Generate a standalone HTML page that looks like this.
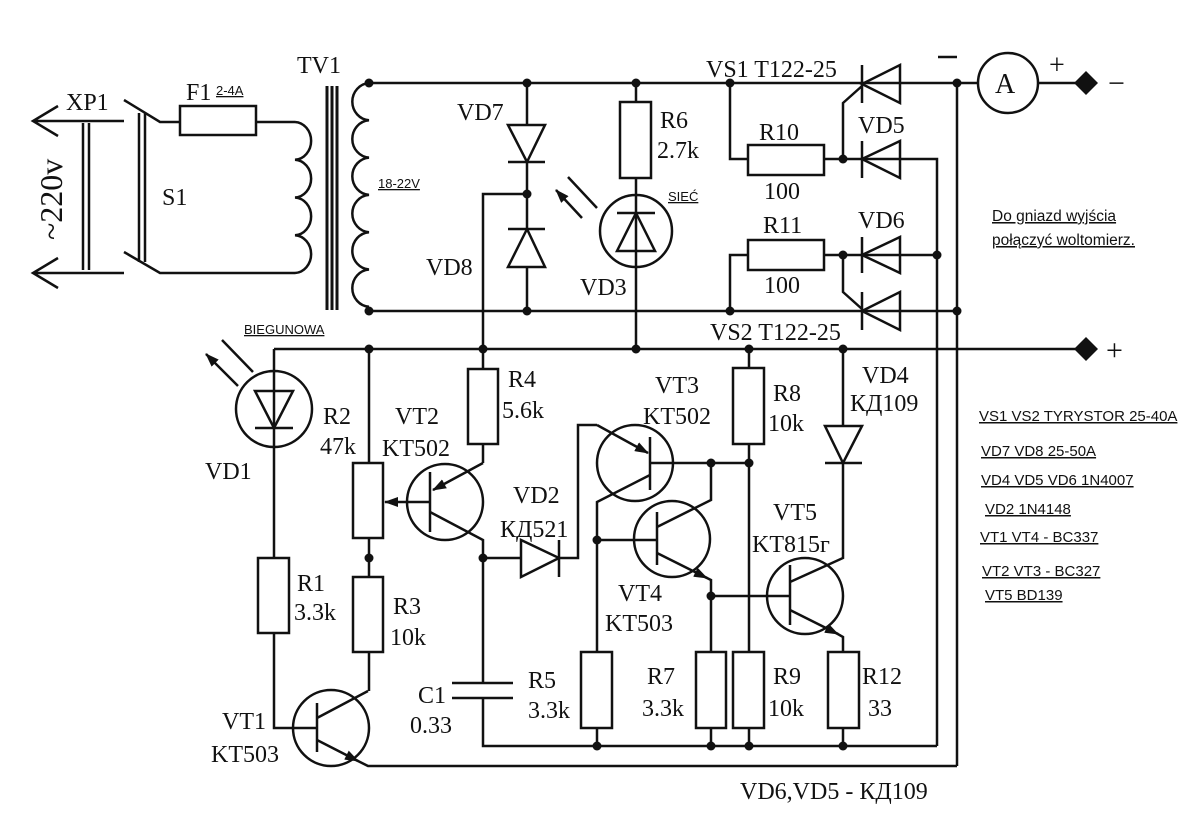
<!DOCTYPE html>
<html><head><meta charset="utf-8"><style>
html,body{margin:0;padding:0;background:#fff}
svg{display:block}
.s{font-family:"Liberation Serif",serif;font-size:24px;fill:#111}
.m{font-family:"Liberation Sans",sans-serif;font-size:15px;fill:#111;text-decoration:underline}
</style></head><body>
<svg width="1200" height="825" viewBox="0 0 1200 825" xmlns="http://www.w3.org/2000/svg">
<defs><marker id="a" viewBox="0 0 14 10" markerWidth="14" markerHeight="10" refX="13" refY="5" orient="auto" markerUnits="userSpaceOnUse"><path d="M0,0 L14,5 L0,10 z" fill="#111"/></marker></defs>
<g stroke="#111" stroke-width="2.5" fill="none">
<path d="M124,121 H33 M58,106 L33,121 L58,136 M124,273 H33 M58,258 L33,273 L58,288"/>
<path d="M83,123 V270 M89,123 V270"/>
<path d="M124,100 L160,122 H180 M124,252 L160,273 H295 M139,113 V262 M145,113 V262"/>
<rect x="180" y="106" width="76" height="29"/>
<path d="M256,122 H295"/>
<path d="M295,122 a17,18.9 0 0 1 0,37.75 a17,18.9 0 0 1 0,37.75 a17,18.9 0 0 1 0,37.75 a17,18.9 0 0 1 0,37.75"/>
<path d="M327,86 V310 M332,86 V310 M337,86 V310" stroke-width="3"/>
<path d="M369,83 a18,18.7 0 0 0 0,37.3 a18,18.7 0 0 0 0,37.3 a18,18.7 0 0 0 0,37.3 a18,18.7 0 0 0 0,37.3 a18,18.7 0 0 0 0,37.3 a18,18.7 0 0 0 0,37.3"/>
<path d="M369,83 H978 M369,311 H957 M274,349 H1086"/>
<path d="M527,83 V311 M508,162 H545 M508,229 H545 M527,194 H483 V349"/>
<polygon points="508,125 545,125 527,162" fill="#fff"/>
<polygon points="527,229 508,267 545,267" fill="#fff"/>
<path d="M636,83 V102 M636,178 V349"/>
<rect x="620" y="102" width="31" height="76" fill="#fff"/>
<circle cx="636" cy="231" r="36"/>
<polygon points="636,213 617,251 655,251"/>
<path d="M617,213 H655"/>
<path d="M597,208 L568,177 M582,218 L556,190" marker-end="url(#a)"/>
<path d="M730,83 V159 H748 M824,159 H900 M900,159 H937 V746 M730,311 V255 H748 M824,255 H937"/>
<rect x="748" y="145" width="76" height="30" fill="#fff"/>
<rect x="748" y="240" width="76" height="30" fill="#fff"/>
<path d="M862,65 V103 M862,141 V178 M862,237 V273 M862,292 V330"/>
<polygon points="900,65 900,103 862,84"/>
<polygon points="900,141 900,178 862,159"/>
<polygon points="900,237 900,273 862,255"/>
<polygon points="900,292 900,330 862,311"/>
<path d="M843,159 V103 L862,86 M843,255 V292 L862,309"/>
<path d="M957,83 V766"/>
<circle cx="1008" cy="83" r="30"/>
<path d="M1038,83 H1086"/>
<circle cx="274" cy="409" r="38"/>
<polygon points="255,391 293,391 274,428"/>
<path d="M255,428 H293 M274,349 V558 M274,633 V728 H317"/>
<rect x="258" y="558" width="31" height="75" fill="#fff"/>
<path d="M253,372 L222,340 M238,386 L206,354" marker-end="url(#a)"/>
<path d="M369,349 V463 M369,538 V577 M369,652 V691"/>
<rect x="353" y="463" width="30" height="75" fill="#fff"/>
<rect x="353" y="577" width="30" height="75" fill="#fff"/>
<circle cx="331" cy="728" r="38"/>
<path d="M317,703 V752 M317,718 L368,691"/>
<path d="M317,740 L358,761" marker-end="url(#a)"/>
<path d="M356,760 L368,766 H957"/>
<circle cx="445" cy="502" r="38"/>
<path d="M430,472 V532 M483,349 V369 M483,444 V463"/>
<rect x="468" y="369" width="30" height="75" fill="#fff"/>
<path d="M483,463 L433,490" marker-end="url(#a)"/>
<path d="M430,502 L385,502" marker-end="url(#a)"/>
<path d="M430,512 L483,540 V683 M452,683 H513 M452,698 H513 M483,698 V746 H937"/>
<polygon points="521,540 521,577 559,558"/>
<path d="M483,558 H521 M559,540 V577 M559,558 H578 V425 H597"/>
<circle cx="635" cy="463" r="38"/>
<path d="M650,437 V490"/>
<path d="M597,425 L648,453" marker-end="url(#a)"/>
<path d="M650,475 L597,502 V652 M650,463 H749"/>
<rect x="581" y="652" width="31" height="76" fill="#fff"/>
<path d="M597,728 V746"/>
<circle cx="672" cy="539" r="38"/>
<path d="M657,512 V565 M597,540 H657 M657,527 L711,500 V463"/>
<path d="M657,553 L707,578" marker-end="url(#a)"/>
<path d="M705,577 L711,580 V652 M711,728 V746 M711,596 H790"/>
<rect x="696" y="652" width="30" height="76" fill="#fff"/>
<path d="M749,349 V368 M749,444 V652 M749,728 V746"/>
<rect x="733" y="368" width="31" height="76" fill="#fff"/>
<rect x="733" y="652" width="31" height="76" fill="#fff"/>
<path d="M843,349 V426 M825,463 H862"/>
<polygon points="825,426 862,426 843,463"/>
<circle cx="805" cy="596" r="38"/>
<path d="M790,565 V625 M790,582 L843,558 V463"/>
<path d="M790,610 L838,634" marker-end="url(#a)"/>
<path d="M836,633 L843,637 V652 M843,728 V746"/>
<rect x="828" y="652" width="31" height="76" fill="#fff"/>
<path d="M938,57 H957" stroke-width="2.5"/>
</g>
<g fill="#111">
<circle cx="369" cy="83" r="4.5"/><circle cx="527" cy="83" r="4.5"/><circle cx="636" cy="83" r="4.5"/><circle cx="730" cy="83" r="4.5"/><circle cx="957" cy="83" r="4.5"/>
<circle cx="527" cy="194" r="4.5"/><circle cx="843" cy="159" r="4.5"/><circle cx="843" cy="255" r="4.5"/><circle cx="937" cy="255" r="4.5"/>
<circle cx="369" cy="311" r="4.5"/><circle cx="527" cy="311" r="4.5"/><circle cx="730" cy="311" r="4.5"/><circle cx="957" cy="311" r="4.5"/>
<circle cx="369" cy="349" r="4.5"/><circle cx="483" cy="349" r="4.5"/><circle cx="636" cy="349" r="4.5"/><circle cx="749" cy="349" r="4.5"/><circle cx="843" cy="349" r="4.5"/>
<circle cx="369" cy="558" r="4.5"/><circle cx="483" cy="558" r="4.5"/><circle cx="711" cy="463" r="4.5"/><circle cx="749" cy="463" r="4.5"/>
<circle cx="597" cy="540" r="4.5"/><circle cx="711" cy="596" r="4.5"/>
<circle cx="597" cy="746" r="4.5"/><circle cx="711" cy="746" r="4.5"/><circle cx="749" cy="746" r="4.5"/><circle cx="843" cy="746" r="4.5"/>
<polygon points="1086,71 1098,83 1086,95 1074,83"/>
<polygon points="1086,337 1098,349 1086,361 1074,349"/>
</g>
<g class="s">
<text x="297" y="73">TV1</text>
<text x="66" y="110">XP1</text>
<text x="186" y="100">F1</text>
<text x="162" y="205">S1</text>
<text transform="translate(62,240) rotate(-90)" style="font-size:32px">~220v</text>
<text x="457" y="120">VD7</text>
<text x="426" y="275">VD8</text>
<text x="660" y="128">R6</text>
<text x="657" y="158">2.7k</text>
<text x="580" y="295">VD3</text>
<text x="706" y="77">VS1 T122-25</text>
<text x="759" y="140">R10</text>
<text x="764" y="199">100</text>
<text x="763" y="233">R11</text>
<text x="764" y="293">100</text>
<text x="858" y="133">VD5</text>
<text x="858" y="228">VD6</text>
<text x="710" y="340">VS2 T122-25</text>
<text x="995" y="93" style="font-size:28px">A</text>
<text x="1049" y="74" style="font-size:28px">+</text>
<text x="1108" y="93" style="font-size:30px">−</text>
<text x="1106" y="360" style="font-size:30px">+</text>
<text x="862" y="383">VD4</text>
<text x="850" y="411">КД109</text>
<text x="205" y="479">VD1</text>
<text x="323" y="424">R2</text>
<text x="320" y="454">47k</text>
<text x="395" y="424">VT2</text>
<text x="382" y="456">KT502</text>
<text x="508" y="387">R4</text>
<text x="502" y="418">5.6k</text>
<text x="655" y="393">VT3</text>
<text x="643" y="424">KT502</text>
<text x="773" y="401">R8</text>
<text x="768" y="431">10k</text>
<text x="513" y="503">VD2</text>
<text x="500" y="537">КД521</text>
<text x="773" y="520">VT5</text>
<text x="752" y="552">KT815г</text>
<text x="618" y="601">VT4</text>
<text x="605" y="631">KT503</text>
<text x="297" y="591">R1</text>
<text x="294" y="620">3.3k</text>
<text x="393" y="614">R3</text>
<text x="390" y="645">10k</text>
<text x="418" y="703">C1</text>
<text x="410" y="733">0.33</text>
<text x="528" y="688">R5</text>
<text x="528" y="718">3.3k</text>
<text x="647" y="684">R7</text>
<text x="642" y="716">3.3k</text>
<text x="773" y="684">R9</text>
<text x="768" y="716">10k</text>
<text x="862" y="684">R12</text>
<text x="868" y="716">33</text>
<text x="222" y="729">VT1</text>
<text x="211" y="762">KT503</text>
<text x="740" y="799">VD6,VD5 - КД109</text>
</g>
<g class="m">
<text x="216" y="95" style="font-size:13px">2-4A</text>
<text x="378" y="188" style="font-size:13px">18-22V</text>
<text x="244" y="334" style="font-size:13px">BIEGUNOWA</text>
<text x="668" y="201" style="font-size:13px">SIEĆ</text>
<text x="992" y="221" style="font-size:15.5px">Do gniazd wyjścia</text>
<text x="992" y="245" style="font-size:15.5px">połączyć woltomierz.</text>
<text x="979" y="421">VS1 VS2 TYRYSTOR 25-40A</text>
<text x="981" y="456">VD7 VD8  25-50A</text>
<text x="981" y="485">VD4 VD5 VD6  1N4007</text>
<text x="985" y="514">VD2 1N4148</text>
<text x="980" y="542">VT1 VT4 - BC337</text>
<text x="982" y="576">VT2 VT3 - BC327</text>
<text x="985" y="600">VT5 BD139</text>
</g>
</svg>
</body></html>
